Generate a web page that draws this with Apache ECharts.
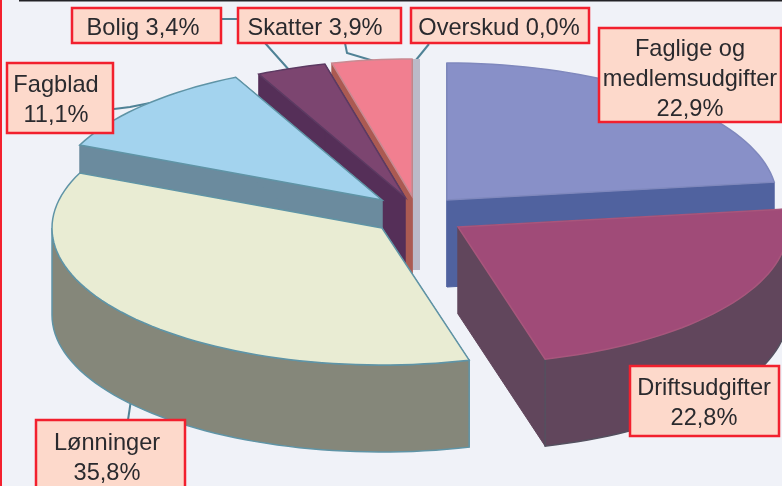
<!DOCTYPE html>
<html>
<head>
<meta charset="utf-8">
<style>html,body{margin:0;padding:0;background:#f0f2f8}#c{width:782px;height:486px}</style>
<script src="https://cdn.jsdelivr.net/npm/echarts@6/dist/echarts.min.js"></script>
</head>
<body>
<div id="c"></div>
<script>
// DATA
const categories = ['Faglige og\nmedlemsudgifter', 'Driftsudgifter', 'Lønninger', 'Fagblad', 'Bolig', 'Skatter', 'Overskud'];
const shares = [22.9, 22.8, 35.8, 11.1, 3.4, 3.9, 0.0];
const shareLabels = ['22,9%', '22,8%', '35,8%', '11,1%', '3,4%', '3,9%', '0,0%'];

// LAYOUT AND STYLE
const W = 782, H = 486;
const RX = 330, RY = 137, DEPTH = 87;
const explodedCentres = [[447,200],[458,227],[382,228],[382,200],[405,197],[412,196],[416,196]];
const topColours  = ['#8890c8','#a04b78','#e9ecd3','#a3d3ee','#7c4570','#f17f90','#bbbac8'];
const wallColours = ['#50629f','#61465c','#85877a','#6b8b9e','#552f58','#ab5a52','#bbbac8'];
const edgeColours = ['#7f88bd','#a8567c','#5f94a6','#5f94a6','#5c3a62','#c98a92','#bbbac8'];
const wallEdges   = ['#50629f','#54505f','#5f94a6','#5f8a9c','#552f58','#ab5a52','#bbbac8'];
const drawOrder = [6,5,4,3,0,2,1];
const boxes = [
  {i:0,x:599,y:28,w:182,h:94,tx:690,ty:79,sep:'\n'},
  {i:1,x:630,y:366,w:149,h:70,tx:704,ty:403,sep:'\n'},
  {i:2,x:36,y:420,w:149,h:72,tx:107,ty:458,sep:'\n'},
  {i:3,x:7,y:63,w:106,h:70,tx:56,ty:100,sep:'\n'},
  {i:4,x:72,y:8,w:149,h:35,tx:143,ty:28,sep:' '},
  {i:5,x:238,y:8,w:163,h:35,tx:315,ty:28,sep:' '},
  {i:6,x:411,y:8,w:178,h:35,tx:499,ty:28,sep:' '}
];
const leaders = [
  [[114,109],[130,107],[150,103]],
  [[222,19],[245,19],[265,43],[290,71]],
  [[345,43],[347,53],[374,61]],
  [[429,44],[416,60]],
  [[131,400],[128,420]]
];

const total = shares.reduce((a, b) => a + b, 0);
const starts = [];
shares.reduce((acc, v, i) => { starts[i] = acc; return acc + v; }, 0);

function rim(c, deg) {
  const t = deg * Math.PI / 180;
  return [c[0] + RX * Math.sin(t), c[1] - RY * Math.cos(t)];
}
function down(p) { return [p[0], p[1] + DEPTH]; }
function arcPoints(c, a0, a1) {
  const pts = [];
  const n = Math.max(8, Math.ceil((a1 - a0) / 2));
  for (let k = 0; k <= n; k++) pts.push(rim(c, a0 + (a1 - a0) * k / n));
  return pts;
}

function renderSlice(params, api) {
  const i = api.value(1);
  const c = explodedCentres[i];
  const a0 = starts[i] / total * 360;
  const a1 = (starts[i] + api.value(0)) / total * 360;
  if (a1 - a0 < 0.01) {
    // zero-size slice: only its edge shows, as a thin upright strip
    const p = rim(c, a0);
    return {type:'line', shape:{x1:c[0], y1:p[1], x2:c[0], y2:c[1]+DEPTH-13},
      style:{stroke:wallColours[i], lineWidth:8}};
  }
  const arc = arcPoints(c, a0, a1);
  const first = arc[0], last = arc[arc.length - 1];
  const wallStyle = {fill:wallColours[i], stroke:wallColours[i], lineWidth:1};
  const children = [
    {type:'polygon', shape:{points:[first, c, down(c), down(first)]}, style:wallStyle},
    {type:'polygon', shape:{points:[last, c, down(c), down(last)]}, style:wallStyle}
  ];
  // the outer wall only shows on the near half of the pie
  const f0 = Math.max(a0, 90), f1 = Math.min(a1, 270);
  if (f1 > f0) {
    const front = arcPoints(c, f0, f1);
    children.push({type:'polygon', shape:{points:front.concat(front.slice().reverse().map(down))},
      style:{fill:wallColours[i], stroke:wallEdges[i], lineWidth:1.5}});
  }
  children.push({type:'polygon', shape:{points:[c].concat(arc)},
    style:{fill:topColours[i], stroke:edgeColours[i], lineWidth:1.5}});
  return {type:'group', children};
}

const graphics = [
  {type:'rect', shape:{x:0,y:0,width:2,height:H}, style:{fill:'#f4202e'}, z:20},
  {type:'rect', shape:{x:19,y:0,width:W-19,height:1.5}, style:{fill:'#222226'}, z:20}
];
leaders.forEach(pts => graphics.push({type:'polyline', shape:{points:pts}, z:1,
  style:{stroke:'#4f8296', lineWidth:2, fill:null}}));
boxes.forEach(b => {
  graphics.push({type:'rect', shape:{x:b.x,y:b.y,width:b.w,height:b.h}, z:10,
    style:{fill:'#fdd9cb', stroke:'#f2202e', lineWidth:2.5}});
  graphics.push({type:'text', x:b.tx, y:b.ty, z:11, style:{
    text:categories[b.i] + b.sep + shareLabels[b.i],
    font:'23.6px "Liberation Sans", Arial, sans-serif', lineHeight:30,
    align:'center', verticalAlign:'middle', fill:'#2a2a2e'}});
});

const chart = echarts.init(document.getElementById('c'), null, {renderer:'canvas'});
chart.setOption({
  animation:false,
  backgroundColor:'#f0f2f8',
  graphic:graphics,
  series:[{
    type:'custom', coordinateSystem:'none', z:5, silent:true,
    renderItem:renderSlice,
    data:drawOrder.map(i => [shares[i], i])
  }]
});
</script>
</body>
</html>
